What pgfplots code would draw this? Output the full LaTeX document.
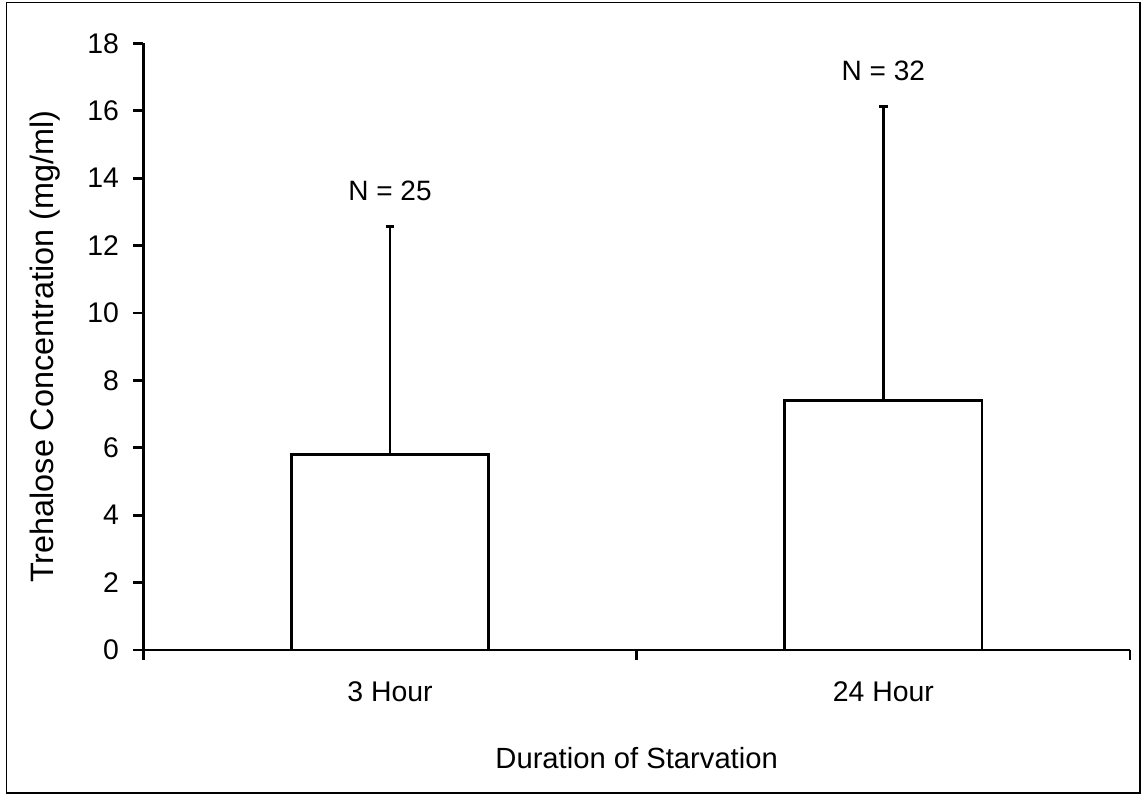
\documentclass[border=0pt]{standalone}
\usepackage{pgfplots}
\pgfplotsset{compat=1.18}
\usepackage{fontspec}
\setmainfont{Liberation Sans}

\begin{document}
\begin{tikzpicture}
\begin{axis}[
  name=ax,
  width=493.3pt, height=303.3pt, scale only axis,
  xmin=-0.5, xmax=1.5, ymin=0, ymax=18,
  axis lines=left,
  axis line style={line width=1.4pt, -},
  ytick={0,2,...,18},
  xtick={0,1}, xticklabels={3 Hour,24 Hour},
  major x tick style={draw=none},
  minor xtick={-0.5,0.5,1.5},
  tick align=outside,
  major tick length=5pt, minor tick length=5pt,
  every tick/.style={line width=1.4pt, black},
  /pgf/number format/assume math mode=true,
  ticklabel style={font=\fontsize{14.2}{16}\selectfont},
  yticklabel style={xshift=-3.6pt},
  xticklabel style={yshift=-7.5pt},
  xlabel={Duration of Starvation},
  ylabel={Trehalose Concentration (mg/ml)},
  xlabel style={font=\fontsize{14.6}{17}\selectfont, at={(axis description cs:0.5,-0.178)}, anchor=center},
  ylabel style={font=\fontsize{16.2}{19}\selectfont, at={(axis description cs:-0.0996,0.5)}, anchor=center},
  ybar, bar width=0.4,
  clip=false,
]
\addplot[ybar, fill=white, draw=black, line width=1.3pt,
  error bars/.cd, y dir=plus, y explicit,
  error mark=|,
  error bar style={line width=1.2pt, black},
  error mark options={line width=1.6pt, mark size=2.2pt, black}]
  coordinates {(0,5.8) +- (0,6.76) (1,7.4) +- (0,8.72)};

% sample sizes above each error bar
\node[font=\fontsize{14}{16}\selectfont] at (axis cs:0,12.56) [yshift=18pt] {N = 25};
\node[font=\fontsize{14}{16}\selectfont] at (axis cs:1,16.12) [yshift=18pt] {N = 32};
\end{axis}
% chart frame
\draw[line width=0.6pt] ([shift={(-68.2pt,-71.5pt)}]ax.south west) rectangle ([shift={(5pt,20.2pt)}]ax.north east);
\path ([shift={(-71.65pt,-72pt)}]ax.south west) rectangle ([shift={(5.5pt,21.65pt)}]ax.north east);
\end{tikzpicture}
\end{document}
